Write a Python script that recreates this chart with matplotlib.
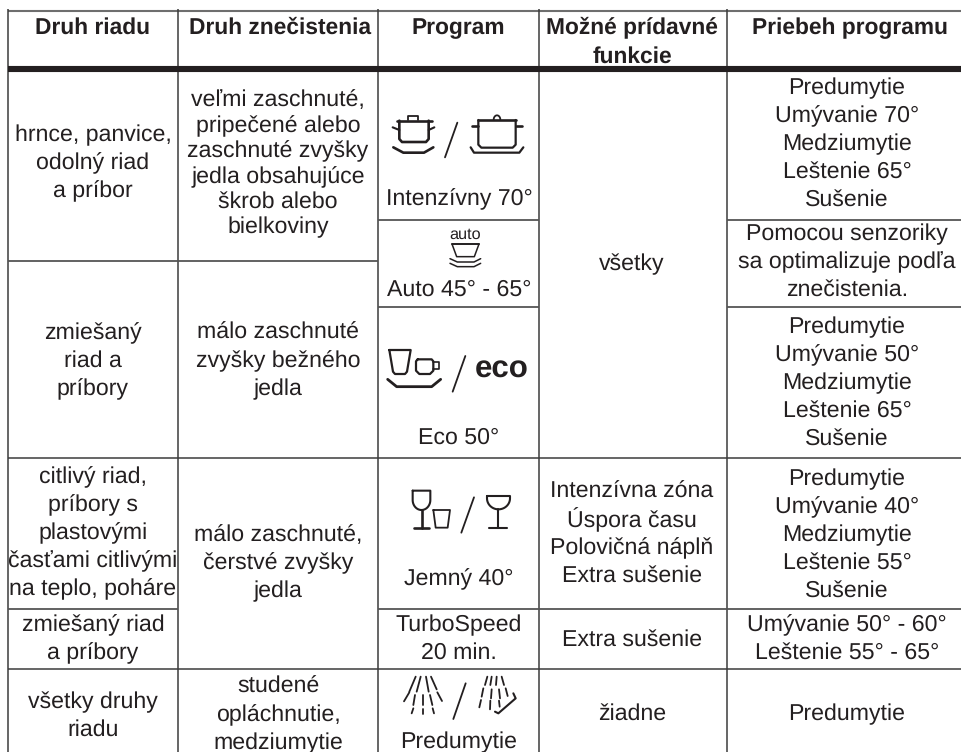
import numpy as np
import matplotlib
matplotlib.use("Agg")
import matplotlib.pyplot as plt

plt.rcParams["text.hinting"] = "none"

INK = "#231f20"
LINE = "#3c3c3c"

# table texts
headers = ["Druh riadu", "Druh znečistenia", "Program", "Možné prídavné\nfunkcie", "Priebeh programu"]

dish_types = [
    "hrnce, panvice,\nodolný riad\na príbor",
    "zmiešaný\nriad a\npríbory",
    "citlivý riad,\npríbory s\nplastovými\nčasťami citlivými\nna teplo, poháre",
    "zmiešaný riad\na príbory",
    "všetky druhy\nriadu",
]
soil_types = [
    "veľmi zaschnuté,\npripečené alebo\nzaschnuté zvyšky\njedla obsahujúce\nškrob alebo\nbielkoviny",
    "málo zaschnuté\nzvyšky bežného\njedla",
    "málo zaschnuté,\nčerstvé zvyšky\njedla",
    "studené\nopláchnutie,\nmedziumytie",
]
programs = ["Intenzívny 70°", "Auto 45° - 65°", "Eco 50°", "Jemný 40°", "TurboSpeed\n20 min.", "Predumytie"]
extras = ["všetky", "Intenzívna zóna\nÚspora času\nPolovičná náplň\nExtra sušenie", "Extra sušenie", "žiadne"]
courses = [
    "Predumytie\nUmývanie 70°\nMedziumytie\nLeštenie 65°\nSušenie",
    "Pomocou senzoriky\nsa optimalizuje podľa\nznečistenia.",
    "Predumytie\nUmývanie 50°\nMedziumytie\nLeštenie 65°\nSušenie",
    "Predumytie\nUmývanie 40°\nMedziumytie\nLeštenie 55°\nSušenie",
    "Umývanie 50° - 60°\nLeštenie 55° - 65°",
    "Predumytie",
]

# layout in pixels of the picture
col_x = [8, 178, 378, 539, 727, 961]
header_y = [28, 28, 28, 42, 28]
header_cx = [93, 280, 458, 632, 850]
dish_y = [163, 361, 533, 639, 716]
soil_y = [164, 361, 563, 715]
prog_y = [199, 290, 438, 579, 639, 742]
extra_y = [264, 534, 640, 714]
course_y = [144, 262, 383, 535, 639, 714]

fig = plt.figure(figsize=(9.61, 7.52), dpi=100)
ax = fig.add_axes([0, 0, 1, 1])
ax.set_xlim(0, 961)
ax.set_ylim(752, 0)
ax.axis("off")


def block(x, y, txt, gap=28.0, size=16.7, weight="normal"):
    lines = txt.split("\n")
    for i, s in enumerate(lines):
        yy = y + (i - (len(lines) - 1) / 2) * gap
        ax.text(x, yy, s, ha="center", va="center", fontsize=size, fontweight=weight,
                family="Liberation Sans", color=INK)


def hline(y, x0, x1, lw=1.1, c=LINE):
    ax.plot([x0, x1], [y, y], color=c, lw=lw, solid_capstyle="butt")


def vline(x, y0=9, y1=752, lw=1.1, c=LINE):
    ax.plot([x, x], [y0, y1], color=c, lw=lw, solid_capstyle="butt")


# grid
hline(10.5, 8, 961, lw=1.5, c="#6e6e6e")
for x in col_x[:-1]:
    vline(x)
hline(69, 8, 961, lw=4.4, c=INK)
hline(261, 8, 378, lw=1.3, c="#555555")
hline(220, 378, 539, lw=1.3, c="#555555")
hline(220, 727, 961, lw=1.3, c="#555555")
hline(307, 378, 539, lw=1.3, c="#555555")
hline(307, 727, 961, lw=1.3, c="#555555")
hline(458, 8, 961)
hline(609, 8, 178, lw=1.3, c="#555555")
hline(609, 378, 961, lw=1.3, c="#555555")
hline(669, 8, 961)

# texts
for x, y, s in zip(header_cx, header_y, headers):
    block(x, y, s, gap=29, size=16.4, weight="bold")
for y, s in zip(dish_y, dish_types):
    block(93, y, s)
for i, (y, s) in enumerate(zip(soil_y, soil_types)):
    block(278, y, s, gap=25.4 if i == 0 else 28)
for y, s in zip(prog_y, programs):
    block(459, y, s)
for y, s in zip(extra_y, extras):
    block(632, y, s)
for y, s in zip(course_y, courses):
    block(847, y, s)


# icons: points are given in the coordinates of the zoomed crops (3x)
def stroke(ox, oy, pts, lw=1.5):
    p = np.array(pts, dtype=float)
    ax.plot(ox + p[:, 0] / 3, oy + p[:, 1] / 3, color=INK, lw=lw,
            solid_capstyle="round", solid_joinstyle="round")


def bowl(x0, x1, ytop, ymid, ybot):
    t = np.linspace(0, np.pi, 30)
    cx = (x0 + x1) / 2
    xs = cx + (x1 - x0) / 2 * np.cos(t)
    ys = ymid + (ybot - ymid) * np.sin(t)
    return [(x0, ytop), (x1, ytop)] + list(zip(xs, ys)) + [(x0, ytop)]


# pots
ox, oy = 350, 70
stroke(ox, oy, [(175, 150), (175, 137), (205, 137), (205, 150)], 1.3)
stroke(ox, oy, [(140, 152), (245, 152)], 1.9)
stroke(ox, oy, [(148, 152), (148, 207), (156, 216), (228, 216), (236, 207), (236, 152)], 1.9)
stroke(ox, oy, [(128, 172), (148, 180)], 1.5)
stroke(ox, oy, [(236, 180), (253, 172)], 1.5)
stroke(ox, oy, [(130, 232), (160, 248), (222, 248), (250, 232)], 1.9)
stroke(ox, oy, [(322, 158), (285, 262)], 1.3)
t = np.linspace(np.pi, 2 * np.pi, 20)
stroke(ox, oy, list(zip(441 + 10 * np.cos(t), 149 + 13 * np.sin(t))), 1.3)
stroke(ox, oy, [(385, 150), (497, 150)], 1.9)
stroke(ox, oy, [(385, 150), (385, 224), (394, 233), (488, 233), (497, 224), (497, 150)], 1.6)
stroke(ox, oy, [(367, 167), (385, 167)], 1.9)
stroke(ox, oy, [(497, 167), (515, 167)], 1.9)
stroke(ox, oy, [(362, 232), (372, 248), (508, 248), (520, 232)], 1.6)

# auto
ox, oy = 350, 130
ax.text(465.5, 235, "auto", ha="center", va="center", fontsize=11.7,
        family="Liberation Sans", color=INK)
stroke(ox, oy, [(306, 342), (387, 342)], 1.4)
stroke(ox, oy, [(306, 342), (320, 380), (373, 380), (387, 342)], 1.1)
stroke(ox, oy, [(300, 386), (322, 396), (372, 396), (392, 386)], 1.1)
stroke(ox, oy, [(300, 400), (322, 410), (372, 410), (392, 400)], 1.1)

# eco
ox, oy = 350, 320
stroke(ox, oy, [(118, 90), (182, 90), (171, 155), (165, 162), (135, 162), (129, 155), (118, 90)], 1.6)
stroke(ox, oy, [(203, 118), (245, 118), (250, 124), (250, 152), (240, 162), (208, 162), (198, 152), (198, 124), (203, 118)], 1.6)
stroke(ox, oy, [(250, 127), (268, 127), (268, 146), (250, 146)], 1.2)
stroke(ox, oy, [(113, 178), (140, 200), (245, 200), (272, 178)], 2.0)
stroke(ox, oy, [(346, 108), (308, 215)], 1.3)
ax.text(502, 369, "eco", ha="center", va="center", fontsize=22.5, fontweight="bold",
        family="Liberation Sans", color=INK)

# glasses
ox, oy = 350, 450
stroke(ox, oy, bowl(188, 241, 122, 150, 180), 1.5)
stroke(ox, oy, [(215, 180), (215, 233)], 1.9)
stroke(ox, oy, [(193, 233), (237, 233)], 1.9)
stroke(ox, oy, [(250, 180), (300, 180), (293, 233), (257, 233), (250, 180)], 1.3)
stroke(ox, oy, [(372, 142), (334, 248)], 1.3)
stroke(ox, oy, bowl(411, 480, 138, 145, 178), 1.5)
stroke(ox, oy, [(445, 178), (445, 233)], 1.5)
stroke(ox, oy, [(418, 233), (472, 233)], 1.5)

# spray
ox, oy = 350, 630
spray_lines = [
    [(197, 140), (178, 185)], [(212, 140), (200, 185)], [(228, 140), (236, 185)], [(243, 140), (260, 178)],
    [(178, 187), (162, 214)], [(195, 195), (190, 225)], [(220, 195), (220, 225)], [(240, 195), (247, 225)],
    [(262, 187), (276, 213)], [(190, 235), (185, 250)], [(219, 237), (219, 253)], [(248, 235), (252, 250)],
    [(412, 140), (405, 165)], [(425, 140), (421, 165)], [(440, 140), (438, 165)], [(455, 140), (462, 165)],
    [(400, 175), (395, 200)], [(425, 178), (423, 205)], [(447, 178), (450, 205)], [(467, 175), (473, 198)],
    [(393, 210), (388, 232)], [(421, 212), (420, 238)], [(447, 212), (449, 230)],
]
for seg in spray_lines:
    stroke(ox, oy, seg, 1.3)
stroke(ox, oy, [(435, 245), (445, 250), (497, 205), (490, 190)], 1.5)
stroke(ox, oy, [(347, 160), (310, 267)], 1.3)

fig.savefig("out.png", dpi=100)
